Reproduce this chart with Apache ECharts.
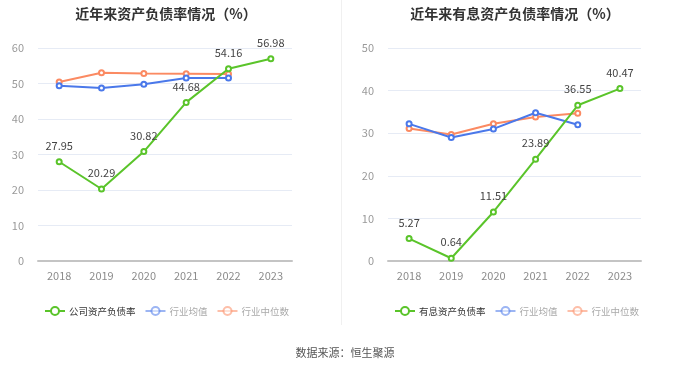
<!DOCTYPE html>
<html>
<head>
<meta charset="utf-8">
<script src="https://cdn.jsdelivr.net/npm/echarts@6/dist/echarts.min.js"></script>
<style>html,body{margin:0;padding:0;background:#fff}#c{width:680px;height:367px}</style>
</head>
<body>
<div id="c"></div>
<script>
var years = ['2018','2019','2020','2021','2022','2023'];
// Left chart: 资产负债率
var companyDebt = [27.95, 20.29, 30.82, 44.68, 54.16, 56.98];
var industryAvgDebt = [49.4, 48.7, 49.8, 51.55, 51.55];
var industryMedDebt = [50.4, 53.05, 52.85, 52.75, 52.65];
// Right chart: 有息资产负债率
var companyIBDebt = [5.27, 0.64, 11.51, 23.89, 36.55, 40.47];
var industryAvgIB = [32.2, 29.0, 31.0, 34.8, 32.0];
var industryMedIB = [31.1, 29.7, 32.2, 33.8, 34.7];

var GREEN = '#5ac42a', BLUE = '#4a78ea', ORANGE = '#fb8a62';
var chart = echarts.init(document.getElementById('c'));
var fontFam = '"Noto Sans CJK SC", sans-serif';

function xAxis(gi){
  return {type:'category', gridIndex:gi, data:years, boundaryGap:true,
    axisLine:{lineStyle:{color:'#c4c4c4', width:2}}, axisTick:{show:false},
    axisLabel:{color:'#8c8c8c', fontSize:11, margin:9, fontFamily:fontFam}};
}
function yAxis(gi, max){
  return {type:'value', gridIndex:gi, min:0, max:max, interval:10,
    axisLine:{show:false}, axisTick:{show:false},
    axisLabel:{color:'#9a9a9a', fontSize:11, margin:14, fontFamily:fontFam},
    splitLine:{lineStyle:{color:'#e6ebf5'}}};
}
function line(name, data, color, gi, withLabel){
  return {name:name, type:'line', xAxisIndex:gi, yAxisIndex:gi, data:data,
    symbol:'emptyCircle', symbolSize:5, showSymbol:true,
    itemStyle:{color:color, borderWidth:1.5}, lineStyle:{color:color, width:2},
    label: withLabel ? {show:true, position:'top', distance:7, color:'#444', fontSize:11, fontFamily:fontFam} : {show:false},
    z: withLabel ? 3 : 2};
}
function legend(first, left){
  return {left:left, top:306, padding:0, itemWidth:20, itemHeight:10, itemGap:9,
    textStyle:{fontSize:9.5, fontFamily:fontFam, padding:[0,0,0,-1]},
    data:[
      {name:first, textStyle:{color:'#333'}},
      {name:'行业均值', textStyle:{color:'#aaa'}, itemStyle:{opacity:0.55}, lineStyle:{opacity:0.55}},
      {name:'行业中位数', textStyle:{color:'#aaa'}, itemStyle:{opacity:0.55}, lineStyle:{opacity:0.55}}
    ]};
}

chart.setOption({
  backgroundColor:'#fff',
  animation:false,
  title:[
    {text:'近年来资产负债率情况（%）', left:161, textAlign:'center', top:2,
     textStyle:{fontSize:14, fontWeight:'bold', color:'#333', fontFamily:fontFam}},
    {text:'近年来有息资产负债率情况（%）', left:510, textAlign:'center', top:2,
     textStyle:{fontSize:14, fontWeight:'bold', color:'#333', fontFamily:fontFam}},
    {text:'数据来源：恒生聚源', left:340, textAlign:'center', top:342,
     textStyle:{fontSize:11, fontWeight:'normal', color:'#555', fontFamily:fontFam}}
  ],
  legend:[legend('公司资产负债率', 44), legend('有息资产负债率', 394)],
  grid:[
    {left:38, right:388, top:48, bottom:106},
    {left:388, right:39, top:48, bottom:106}
  ],
  xAxis:[xAxis(0), xAxis(1)],
  yAxis:[yAxis(0, 60), yAxis(1, 50)],
  graphic:[{type:'line', shape:{x1:341.5, y1:0, x2:341.5, y2:325}, style:{stroke:'#f0f0f0', lineWidth:1}}],
  series:[
    line('行业中位数', industryMedDebt, ORANGE, 0, false),
    line('行业均值', industryAvgDebt, BLUE, 0, false),
    line('公司资产负债率', companyDebt, GREEN, 0, true),
    line('行业中位数', industryMedIB, ORANGE, 1, false),
    line('行业均值', industryAvgIB, BLUE, 1, false),
    line('有息资产负债率', companyIBDebt, GREEN, 1, true)
  ]
});
</script>
</body>
</html>
